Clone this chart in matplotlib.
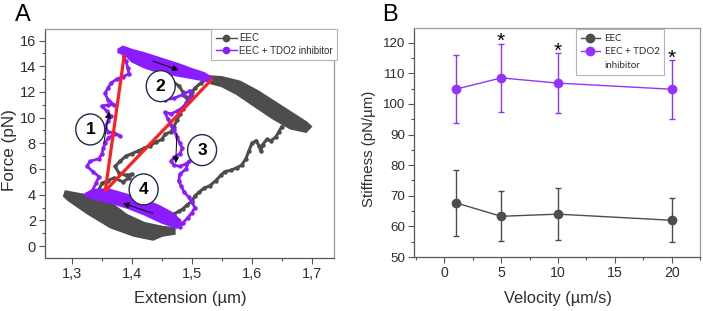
import matplotlib
matplotlib.use('Agg')
import matplotlib.pyplot as plt
from matplotlib.patches import Ellipse
from matplotlib.lines import Line2D
from matplotlib.ticker import MultipleLocator, FixedLocator, FixedFormatter

plt.rcParams['font.family'] = ['Liberation Sans', 'DejaVu Sans']

# ---------------- Panel A data (force-extension traces) ----------------
# dense clouds (outline of the band: upper edge then lower edge)
eec_low_band_x = [1.29, 1.33, 1.37, 1.39, 1.42, 1.45, 1.47, 1.47, 1.45, 1.435, 1.403, 1.365, 1.327, 1.295, 1.288]
eec_low_band_y = [4.2, 3.85, 3.1, 2.4, 1.75, 1.45, 1.35, 1.0, 0.85, 0.55, 0.86, 1.5, 2.57, 3.6, 3.9]
eec_high_band_x = [1.52, 1.55, 1.58, 1.61, 1.64, 1.67, 1.69, 1.697, 1.69, 1.665, 1.635, 1.60, 1.575, 1.55, 1.53]
eec_high_band_y = [13.2, 13.1, 12.75, 12.0, 11.1, 10.2, 9.6, 9.3, 8.95, 9.2, 10.0, 11.1, 11.9, 12.5, 12.75]
tdo_low_band_x = [1.323, 1.335, 1.36, 1.39, 1.42, 1.445, 1.465, 1.48, 1.482, 1.475, 1.45, 1.42, 1.393, 1.365, 1.337, 1.323]
tdo_low_band_y = [4.05, 4.35, 4.4, 4.0, 3.6, 3.1, 2.6, 2.0, 1.7, 1.45, 1.85, 2.5, 3.0, 3.4, 3.7, 3.9]
tdo_high_band_x = [1.378, 1.385, 1.40, 1.42, 1.45, 1.48, 1.50, 1.52, 1.532, 1.528, 1.50, 1.47, 1.445, 1.42, 1.40, 1.39, 1.378]
tdo_high_band_y = [15.3, 15.5, 15.25, 15.0, 14.55, 14.1, 13.75, 13.45, 13.1, 12.85, 13.1, 13.35, 13.55, 13.95, 14.4, 14.9, 15.1]

# sparse trace segments
eec_up_x = [1.345, 1.35, 1.36, 1.37, 1.385, 1.395, 1.40, 1.39, 1.378, 1.372, 1.38, 1.39, 1.40, 1.41, 1.42,
            1.43, 1.44, 1.45, 1.455, 1.465, 1.47, 1.475, 1.48, 1.485, 1.49, 1.495, 1.50, 1.505, 1.515, 1.525]
eec_up_y = [4.4, 4.9, 5.1, 5.3, 5.0, 5.3, 5.6, 5.5, 5.7, 6.2, 6.6, 7.0, 7.2, 7.4, 7.6,
            7.8, 8.1, 8.3, 8.7, 8.9, 9.3, 9.8, 10.3, 10.7, 11.1, 11.5, 12.0, 12.3, 12.7, 13.0]
eec_side_x = [1.47, 1.478, 1.485, 1.49, 1.495]
eec_side_y = [12.7, 12.5, 12.0, 11.6, 11.3]
eec_down_x = [1.65, 1.645, 1.64, 1.632, 1.625, 1.618, 1.615, 1.612, 1.607, 1.60, 1.595, 1.59, 1.583, 1.575,
              1.565, 1.555, 1.548, 1.54, 1.53, 1.52, 1.512, 1.505, 1.50, 1.492, 1.485, 1.478, 1.47, 1.465]
eec_down_y = [9.3, 8.9, 8.5, 8.2, 8.3, 7.9, 7.4, 7.8, 8.2, 8.0, 7.4, 6.8, 6.3, 6.1,
              5.9, 5.8, 5.5, 5.1, 4.7, 4.5, 4.2, 3.9, 3.5, 3.2, 2.9, 2.7, 2.5, 2.2]

tdo_up_x = [1.335, 1.34, 1.345, 1.335, 1.325, 1.33, 1.345, 1.35, 1.352, 1.355, 1.36, 1.37, 1.38, 1.37, 1.36,
            1.355, 1.36, 1.365, 1.358, 1.35, 1.36, 1.37, 1.36, 1.355, 1.36, 1.365, 1.375, 1.385, 1.395,
            1.393, 1.39, 1.386]
tdo_up_y = [4.4, 4.9, 5.4, 5.8, 6.2, 6.6, 6.8, 7.2, 7.6, 8.0, 8.4, 8.7, 8.6, 8.8, 8.9,
            9.3, 9.7, 10.1, 10.5, 10.9, 11.0, 11.0, 11.4, 11.9, 12.3, 12.7, 13.0, 13.2, 13.4,
            13.9, 14.4, 14.8]
tdo_down_x = [1.45, 1.445, 1.44, 1.437, 1.445, 1.455, 1.47, 1.485, 1.497, 1.50, 1.492, 1.485, 1.475, 1.465,
              1.455, 1.46, 1.465, 1.47, 1.475, 1.48, 1.484, 1.48, 1.47, 1.465, 1.47, 1.48, 1.49, 1.495,
              1.49, 1.48, 1.478, 1.482, 1.487, 1.495, 1.50, 1.505, 1.50, 1.493, 1.485, 1.48]
tdo_down_y = [13.2, 12.8, 12.4, 12.0, 11.6, 11.4, 11.5, 11.8, 12.1, 11.7, 11.2, 10.8, 10.5, 10.3,
              10.4, 9.9, 9.4, 9.0, 8.5, 8.0, 7.6, 7.2, 6.9, 6.6, 6.3, 6.2, 6.4, 6.6,
              6.0, 5.6, 5.1, 4.7, 4.2, 3.8, 3.4, 3.0, 2.6, 2.2, 1.8, 1.5]

# red stiffness lines (top, apex, right)
red_x = [1.387, 1.3555, 1.533]
red_y = [14.8, 4.3, 12.97]

# numbered step labels
step_labels = ['1', '2', '3', '4']
step_x = [1.3305, 1.448, 1.517, 1.4195]
step_y = [9.08, 12.45, 7.47, 4.41]

# direction arrows (tail -> head)
arrow_tail_x = [1.353, 1.435, 1.475, 1.435]
arrow_tail_y = [8.0, 14.4, 8.8, 2.55]
arrow_head_x = [1.362, 1.478, 1.473, 1.385]
arrow_head_y = [10.45, 13.7, 6.45, 3.33]

a_xticks = [1.3, 1.4, 1.5, 1.6, 1.7]
a_xticklabels = ['1,3', '1,4', '1,5', '1,6', '1,7']
a_yticks = [0, 2, 4, 6, 8, 10, 12, 14, 16]

# ---------------- Panel B data (stiffness vs velocity) ----------------
velocity = [1, 5, 10, 20]
eec_mean = [67.7, 63.3, 64.0, 62.0]
eec_err = [10.7, 8.1, 8.5, 7.2]
tdo_mean = [104.8, 108.5, 106.8, 104.8]
tdo_err = [11.1, 11.0, 9.8, 9.7]
star_x = [5, 10, 20]
star_y = [122.5, 119.3, 117.1]
b_xticks = [0, 5, 10, 15, 20]
b_yticks = [50, 60, 70, 80, 90, 100, 110, 120]

series_names = ['EEC', 'EEC + TDO2 inhibitor']
legend_b_labels = ['EEC', 'EEC + TDO2', 'inhibitor']

# ---------------- styling ----------------
GRAY = '#4d4d4d'
PURPLE = '#8a1cff'
PURPLE_B = '#9433ff'
RED = '#ff1f1f'
TXT = '#2e2e2e'
SPINE = '#555555'
SPINE_LIGHT = '#9a9a9a'

W, H = 703, 311
fig = plt.figure(figsize=(W / 100, H / 100), dpi=100)
axA = fig.add_axes([45 / W, 1 - 258 / H, 289 / W, 229 / H])
axB = fig.add_axes([414 / W, 1 - 257 / H, 286 / W, 229 / H])

for ax in (axA, axB):
    ax.spines['left'].set_color(SPINE)
    ax.spines['bottom'].set_color(SPINE)
    ax.spines['top'].set_color(SPINE_LIGHT)
    ax.spines['right'].set_color(SPINE_LIGHT)
    for s in ax.spines.values():
        s.set_linewidth(0.9)
    ax.tick_params(which='both', direction='out', color=SPINE, width=0.8,
                   top=False, right=False, labelcolor=TXT)
    ax.tick_params(which='major', length=4, pad=2.5)
    ax.tick_params(which='minor', length=2.5)

# ---- Panel A ----
axA.set_xlim(1.255, 1.737)
axA.set_ylim(-0.93, 16.9)
axA.xaxis.set_major_locator(FixedLocator(a_xticks))
axA.xaxis.set_major_formatter(FixedFormatter(a_xticklabels))
axA.xaxis.set_minor_locator(MultipleLocator(0.05))
axA.set_yticks(a_yticks)
axA.yaxis.set_minor_locator(MultipleLocator(1))
axA.tick_params(labelsize=10.5)

# gray (EEC) trace
axA.fill(eec_low_band_x, eec_low_band_y, color=GRAY, lw=2.5, zorder=2)
axA.fill(eec_high_band_x, eec_high_band_y, color=GRAY, lw=2.5, zorder=2)
for xs, ys in [(eec_up_x, eec_up_y), (eec_side_x, eec_side_y), (eec_down_x, eec_down_y)]:
    axA.plot(xs, ys, '-o', color=GRAY, lw=2.2, ms=3.2, mew=0, zorder=2)
# purple (TDO2) trace
axA.fill(tdo_low_band_x, tdo_low_band_y, color=PURPLE, lw=2.0, zorder=3)
axA.fill(tdo_high_band_x, tdo_high_band_y, color=PURPLE, lw=2.0, zorder=3)
for xs, ys in [(tdo_up_x, tdo_up_y), (tdo_down_x, tdo_down_y)]:
    axA.plot(xs, ys, '-o', color=PURPLE, lw=2.0, ms=3.2, mew=0, zorder=3)

# red lines
axA.plot(red_x, red_y, color=RED, lw=2.3, solid_capstyle='round', zorder=5)

# arrows
for tx, ty, hx, hy in zip(arrow_tail_x, arrow_tail_y, arrow_head_x, arrow_head_y):
    axA.annotate('', xy=(hx, hy), xytext=(tx, ty),
                 arrowprops=dict(arrowstyle='-|>', color='black', lw=0.7,
                                 mutation_scale=9, shrinkA=0, shrinkB=0), zorder=6)

# numbered circles
for lab, x, y in zip(step_labels, step_x, step_y):
    axA.add_patch(Ellipse((x, y), width=29 / 600, height=31 / 12.85, facecolor='white',
                          edgecolor='#1d2b4c', lw=1.0, zorder=7))
    axA.text(x, y, lab, ha='center', va='center', fontsize=12.5, fontweight='bold',
             color='black', zorder=8)

hA = [Line2D([], [], color=GRAY, marker='o', ms=4.5, lw=1.0),
      Line2D([], [], color=PURPLE, marker='o', ms=4.5, lw=1.0)]
legA = axA.legend(hA, series_names, loc='upper left', bbox_to_anchor=(0.575, 1.0),
                  frameon=True, fancybox=False, edgecolor='#b5b5b5', framealpha=1,
                  prop={'family': ['Liberation Sans Narrow', 'Liberation Sans'], 'size': 7.0},
                  handlelength=2.2, handletextpad=0.25, borderpad=0.45, labelspacing=0.25,
                  borderaxespad=0)
legA.get_frame().set_linewidth(0.8)
for t in legA.get_texts():
    t.set_color(TXT)

# ---- Panel B ----
axB.set_xlim(-2.67, 22.5)
axB.set_ylim(50, 124.8)
axB.set_xticks(b_xticks)
axB.xaxis.set_minor_locator(MultipleLocator(2.5))
axB.set_yticks(b_yticks)
axB.yaxis.set_minor_locator(MultipleLocator(5))
axB.tick_params(axis='x', labelsize=10.2)
axB.tick_params(axis='y', labelsize=9.6)

axB.errorbar(velocity, eec_mean, yerr=eec_err, color=GRAY, marker='o', ms=6, lw=1.0,
             elinewidth=1.0, capsize=2.5, capthick=1.0, zorder=3)
axB.errorbar(velocity, tdo_mean, yerr=tdo_err, color=PURPLE_B, marker='o', ms=6, lw=1.0,
             elinewidth=1.0, capsize=2.5, capthick=1.0, zorder=3)

hB = [Line2D([], [], color=GRAY, marker='o', ms=6, lw=1.0),
      Line2D([], [], color=PURPLE_B, marker='o', ms=6, lw=1.0),
      Line2D([], [], color='none', lw=0)]
legB = axB.legend(hB, legend_b_labels, loc='upper left',
                  bbox_to_anchor=(0.566, 0.995), frameon=True, fancybox=False,
                  edgecolor='#b5b5b5', framealpha=1,
                  prop={'family': ['Lato', 'Liberation Sans'], 'size': 7.0},
                  handlelength=2.0, handletextpad=0.45, borderpad=0.5, labelspacing=0.45,
                  borderaxespad=0)
legB.get_frame().set_linewidth(0.8)
for t in legB.get_texts():
    t.set_color(TXT)

for x, y in zip(star_x, star_y):
    axB.annotate('*', (x, y), xytext=(0, -8.5), textcoords='offset points',
                 ha='center', va='baseline', fontsize=15, color='black', zorder=10)

# ---- labels ----
fig.text(190 / W, 1 - 298 / H, 'Extension (µm)', ha='center', va='center', fontsize=12, color=TXT)
fig.text(10 / W, 1 - 150 / H, 'Force (pN)', ha='center', va='center', rotation=90, fontsize=12.3, color=TXT)
fig.text(558 / W, 1 - 298 / H, 'Velocity (µm/s)', ha='center', va='center', fontsize=11.8, color=TXT)
fig.text(369 / W, 1 - 149 / H, 'Stiffness (pN/µm)', ha='center', va='center', rotation=90, fontsize=10.8, color=TXT)
fig.text(23 / W, 1 - 15 / H, 'A', ha='center', va='center', fontsize=17, color='black')
fig.text(390 / W, 1 - 15 / H, 'B', ha='center', va='center', fontsize=17, color='black')

fig.savefig('out.png', dpi=100, facecolor='white')
